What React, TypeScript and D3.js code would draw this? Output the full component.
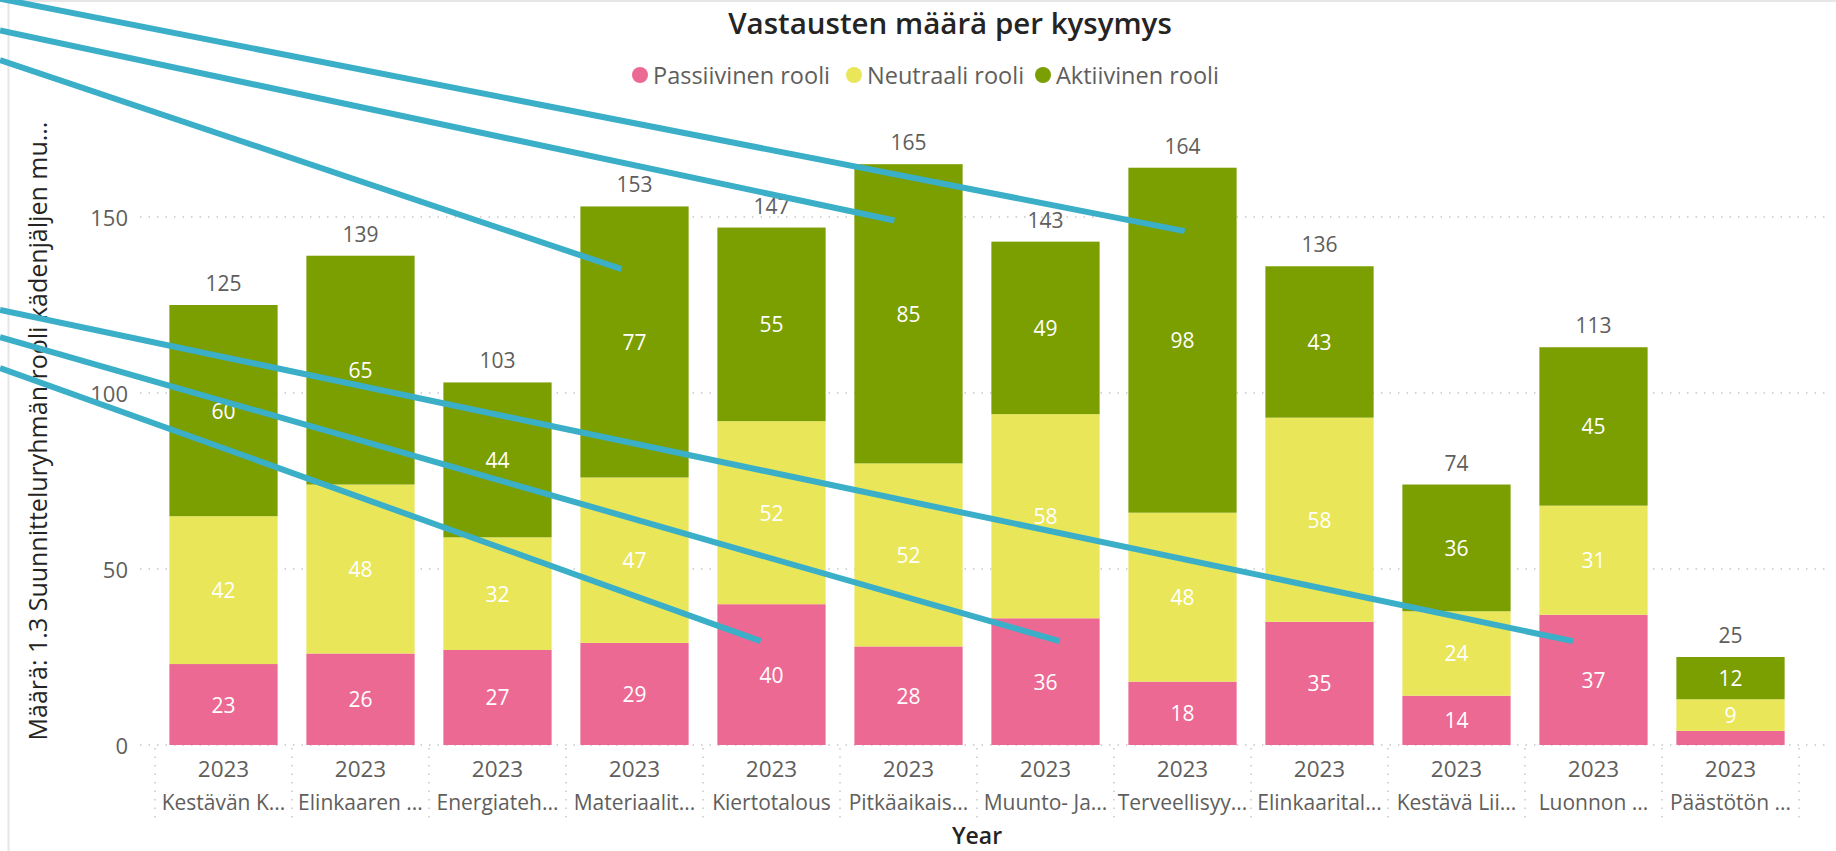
import React from "react";
import * as d3 from "d3";

const categories = [
  "Kestävän K...",
  "Elinkaaren ...",
  "Energiateh...",
  "Materiaalit...",
  "Kiertotalous",
  "Pitkäaikais...",
  "Muunto- Ja...",
  "Terveellisyy...",
  "Elinkaarital...",
  "Kestävä Lii...",
  "Luonnon ...",
  "Päästötön ...",
];
const years = ["2023", "2023", "2023", "2023", "2023", "2023", "2023", "2023", "2023", "2023", "2023", "2023"];
const passiivinen = [23, 26, 27, 29, 40, 28, 36, 18, 35, 14, 37, 4];
const neutraali = [42, 48, 32, 47, 52, 52, 58, 48, 58, 24, 31, 9];
const aktiivinen = [60, 65, 44, 77, 55, 85, 49, 98, 43, 36, 45, 12];
const seriesKeys = ["Passiivinen rooli", "Neutraali rooli", "Aktiivinen rooli"];
const seriesColors = ["#EC6993", "#E9E65A", "#7B9E00"];
const yTicks = [0, 50, 100, 150];

const title = "Vastausten määrä per kysymys";
const yTitle = "Määrä: 1.3 Suunnitteluryhmän rooli kädenjäljen mu...";
const xTitle = "Year";

// annotation strokes (drawn over the chart): end point in data space
const annotEndCat = [7, 5, 3, 10, 6, 4];
const annotEndOffset = [0.02, -0.13, -0.12, -0.19, 0.13, -0.1];
const annotEndValue = [146, 149, 135.2, 29.5, 29.5, 29.5];
const annotStartValue = [212, 203, 194.6, 123.6, 115.9, 107.1];

const W = 1836;
const H = 851;
const FONT = "'Open Sans', 'Segoe UI', sans-serif";
const LABEL = "#605E5C";
const DARK = "#252423";

export default function App() {
  const x = d3.scaleBand<string>().domain(categories).range([155, 1799]).paddingInner(0.21).paddingOuter(0.105);
  const y = d3.scaleLinear().domain([0, 150]).range([745, 217]);

  const rows = categories.map((c, i) => ({
    cat: c,
    [seriesKeys[0]]: passiivinen[i],
    [seriesKeys[1]]: neutraali[i],
    [seriesKeys[2]]: aktiivinen[i],
  }));
  const stack = d3.stack<any>().keys(seriesKeys)(rows);
  const totals = categories.map((_, i) => passiivinen[i] + neutraali[i] + aktiivinen[i]);
  const bw = x.bandwidth();
  const step = x.step();
  const bandStart = x.range()[0];

  const legendX = [640, 854, 1043];

  return (
    <svg width={W} height={H} style={{ position: "absolute", left: 0, top: 0, background: "#fff" }} fontFamily={FONT}>
      <rect x={0} y={0} width={W} height={H} fill="#fff" />
      <line x1={0} x2={W} y1={1} y2={1} stroke="#E6E6E6" strokeWidth={2} />
      <line x1={8.5} x2={8.5} y1={0} y2={H} stroke="#E6E6E6" strokeWidth={2} />

      {/* title */}
      <text x={950} y={22} textAnchor="middle" dominantBaseline="central" fontSize={29.5} fill={DARK} fontWeight={600}>
        {title}
      </text>

      {/* legend */}
      {seriesKeys.map((k, i) => (
        <g key={k}>
          <circle cx={legendX[i]} cy={75} r={8} fill={seriesColors[i]} />
          <text x={legendX[i] + 13} y={75} dominantBaseline="central" fontSize={23.5} fill={LABEL}>
            {k}
          </text>
        </g>
      ))}

      {/* gridlines */}
      {yTicks.map((t) => (
        <g key={t}>
          <line x1={140} x2={1830} y1={y(t)} y2={y(t)} stroke="#C8C6C4" strokeWidth={1.5} strokeDasharray="1.5,7" />
          <text x={128} y={y(t)} textAnchor="end" dominantBaseline="central" fontSize={22} fill={LABEL}>
            {t}
          </text>
        </g>
      ))}

      {/* category dividers */}
      {d3.range(categories.length + 1).map((i) => (
        <line
          key={i}
          x1={bandStart + i * step}
          x2={bandStart + i * step}
          y1={748}
          y2={822}
          stroke="#C8C6C4"
          strokeWidth={1.5}
          strokeDasharray="1.5,7"
        />
      ))}

      {/* bars */}
      {stack.map((s, si) => (
        <g key={s.key}>
          {s.map((d: any, i: number) => (
            <rect
              key={i}
              x={x(categories[i])}
              y={y(d[1])}
              width={bw}
              height={y(d[0]) - y(d[1])}
              fill={seriesColors[si]}
            />
          ))}
        </g>
      ))}

      {/* segment labels */}
      {stack.map((s, si) => (
        <g key={"l" + s.key}>
          {s.map((d: any, i: number) => {
            const h = y(d[0]) - y(d[1]);
            if (h < 22) return null;
            return (
              <text
                key={i}
                x={(x(categories[i]) as number) + bw / 2}
                y={(y(d[0]) + y(d[1])) / 2}
                textAnchor="middle"
                dominantBaseline="central"
                fontSize={21}
                fill="#fff"
              >
                {d[1] - d[0]}
              </text>
            );
          })}
        </g>
      ))}

      {/* totals */}
      {totals.map((t, i) => (
        <text
          key={i}
          x={(x(categories[i]) as number) + bw / 2}
          y={y(t) - 22}
          textAnchor="middle"
          dominantBaseline="central"
          fontSize={21}
          fill={LABEL}
        >
          {t}
        </text>
      ))}

      {/* x labels */}
      {categories.map((c, i) => (
        <g key={c}>
          <text x={(x(c) as number) + bw / 2} y={768} textAnchor="middle" dominantBaseline="central" fontSize={22.5} fill={LABEL}>
            {years[i]}
          </text>
          <text x={(x(c) as number) + bw / 2} y={802} textAnchor="middle" dominantBaseline="central" fontSize={21} fill={LABEL}>
            {c}
          </text>
        </g>
      ))}

      <text x={(x.range()[0] + x.range()[1]) / 2} y={835} textAnchor="middle" dominantBaseline="central" fontSize={23} fill={DARK} fontWeight={600}>
        {xTitle}
      </text>

      <text
        transform={`translate(37, 431) rotate(-90)`}
        textAnchor="middle"
        dominantBaseline="central"
        fontSize={25}
        fill={DARK}
      >
        {yTitle}
      </text>

      {/* annotation strokes */}
      {annotEndCat.map((ci, i) => (
        <line
          key={"a" + i}
          x1={0}
          y1={y(annotStartValue[i])}
          x2={(x(categories[ci]) as number) + bw / 2 + annotEndOffset[i] * bw}
          y2={y(annotEndValue[i])}
          stroke="#3AAFC7"
          strokeWidth={6}
        />
      ))}
    </svg>
  );
}
